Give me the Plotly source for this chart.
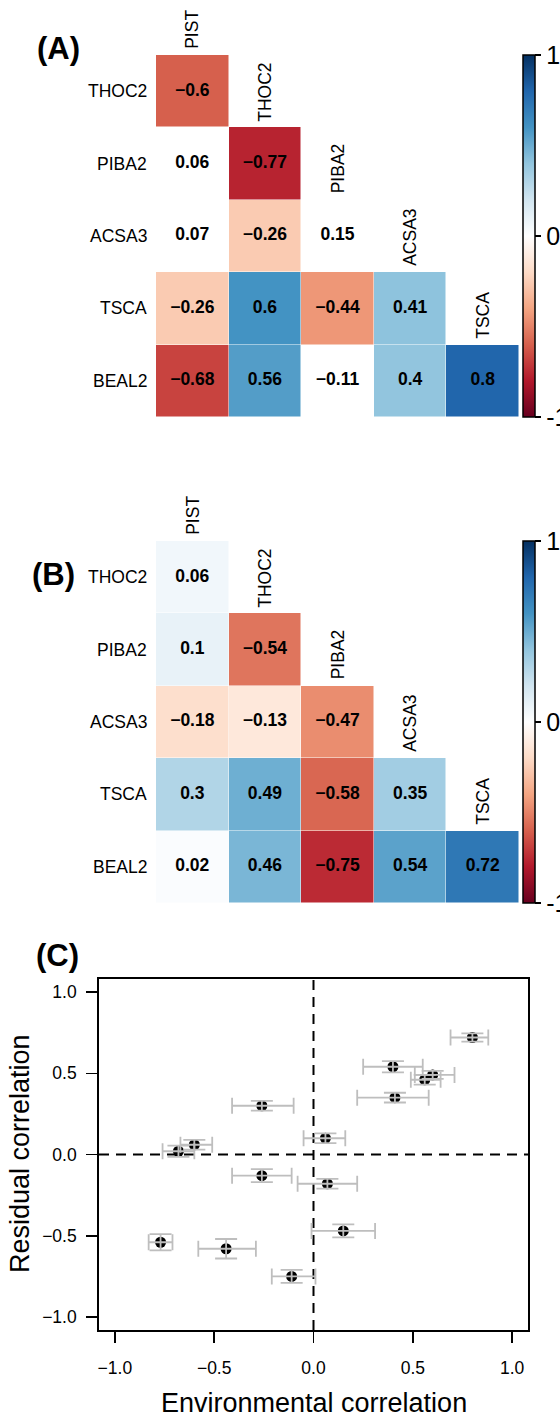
import plotly.graph_objects as go

# ---------------- data ----------------
rows = ["THOC2", "PIBA2", "ACSA3", "TSCA", "BEAL2"]
cols = ["PIST", "THOC2", "PIBA2", "ACSA3", "TSCA"]

# (A) environmental correlations (lower triangle, row by row)
env_corr = [
    [-0.60],
    [0.06, -0.77],
    [0.07, -0.26, 0.15],
    [-0.26, 0.60, -0.44, 0.41],
    [-0.68, 0.56, -0.11, 0.40, 0.80],
]
# cells left blank (non-significant) in (A)
env_blank = [
    [False],
    [True, False],
    [True, False, True],
    [False, False, False, False],
    [False, False, True, False, False],
]
# (B) residual correlations
res_corr = [
    [0.06],
    [0.10, -0.54],
    [-0.18, -0.13, -0.47],
    [0.30, 0.49, -0.58, 0.35],
    [0.02, 0.46, -0.75, 0.54, 0.72],
]

# (C) interval bounds, same pair order as the flattened lower triangle
env_lo = [-0.67, -0.05, -0.83, -0.08, -0.41, -0.01, -0.41, 0.51, -0.58, 0.22, -0.76, 0.49, -0.21, 0.25, 0.69]
env_hi = [-0.51, 0.16, -0.71, 0.22, -0.11, 0.31, -0.10, 0.71, -0.29, 0.58, -0.60, 0.64, 0.01, 0.55, 0.88]
res_lo = [0.03, 0.07, -0.59, -0.21, -0.17, -0.51, 0.27, 0.465, -0.64, 0.32, -0.015, 0.43, -0.79, 0.505, 0.695]
res_hi = [0.09, 0.13, -0.49, -0.15, -0.09, -0.43, 0.33, 0.515, -0.52, 0.38, 0.055, 0.49, -0.71, 0.575, 0.745]

cb_vals = [-1, 0, 1]
cb_text = ["-1", "0", "1"]
sc_ticks = [-1.0, -0.5, 0.0, 0.5, 1.0]

# ---------------- style ----------------
W, H = 560, 1420
FONT = "Liberation Sans, Arial, sans-serif"
RDBU = ["#67001F", "#B2182B", "#D6604D", "#F4A582", "#FDDBC7", "#FFFFFF",
        "#D1E5F0", "#92C5DE", "#4393C3", "#2166AC", "#053061"]
colorscale = [[i / 10, c] for i, c in enumerate(RDBU)]


def fx(p):
    return p / W


def fy(p):
    return 1 - p / H


def fmt(v):
    s = f"{v:g}"
    return s.replace("-", "\u2212")


fig = go.Figure()
annotations = []


def add_heat(mat, blank, xa, ya, top_px, bot_px):
    n = len(rows)
    z = [[None] * n for _ in range(n)]
    tx, ty, tt = [], [], []
    for i, r in enumerate(mat):
        for j, v in enumerate(r):
            if blank is None or not blank[i][j]:
                z[i][j] = v
            tx.append(j)
            ty.append(i)
            tt.append(fmt(v))
    fig.add_trace(go.Heatmap(
        z=z, x=list(range(n)), y=list(range(n)), xaxis=xa, yaxis=ya,
        zmin=-1, zmax=1, colorscale=colorscale, hoverinfo="skip",
        xgap=0.5, ygap=0.5,
        colorbar=dict(
            x=fx(523), xanchor="left", y=fy(top_px), yanchor="top",
            len=bot_px - top_px, lenmode="pixels", thickness=12,
            thicknessmode="pixels", outlinewidth=1.5, outlinecolor="black",
            xpad=0, ypad=0, tickvals=cb_vals, ticktext=cb_text,
            ticks="outside", ticklen=6, tickwidth=1.5, tickcolor="black",
            tickfont=dict(size=25, color="black", family=FONT),
        ),
    ))
    fig.add_trace(go.Scatter(
        x=tx, y=ty, text=tt, mode="text", xaxis=xa, yaxis=ya,
        textfont=dict(size=17.5, color="black", family=FONT, weight="bold"),
        hoverinfo="skip", showlegend=False,
    ))
    for i, name in enumerate(rows):
        annotations.append(dict(
            text=name, xref="paper", x=fx(149), xanchor="right",
            yref=ya, y=i, yanchor="middle", showarrow=False,
            font=dict(size=17.5, color="black", family=FONT)))
    for j, name in enumerate(cols):
        annotations.append(dict(
            text=name, xref=xa, x=j, xanchor="center",
            yref=ya, y=j - 0.5, yanchor="bottom", yshift=4,
            textangle=-90, showarrow=False,
            font=dict(size=17.5, color="black", family=FONT)))


add_heat(env_corr, env_blank, "x", "y", 55, 417)
add_heat(res_corr, None, "x2", "y2", 541, 903)

# ---------------- (C) scatter ----------------
env_flat = [v for r in env_corr for v in r]
res_flat = [v for r in res_corr for v in r]
ex_plus = [h - x for h, x in zip(env_hi, env_flat)]
ex_minus = [x - l for l, x in zip(env_lo, env_flat)]
ey_plus = [h - y for h, y in zip(res_hi, res_flat)]
ey_minus = [y - l for l, y in zip(res_lo, res_flat)]

fig.add_trace(go.Scatter(
    x=env_flat, y=res_flat, mode="markers", xaxis="x3", yaxis="y3",
    marker=dict(color="black", size=11), showlegend=False, hoverinfo="skip"))
fig.add_trace(go.Scatter(
    x=env_flat, y=res_flat, mode="markers", xaxis="x3", yaxis="y3",
    marker=dict(color="black", size=1, opacity=0), showlegend=False,
    hoverinfo="skip",
    error_x=dict(type="data", symmetric=False, array=ex_plus, arrayminus=ex_minus,
                 color="#BEBEBE", thickness=1.8, width=8),
    error_y=dict(type="data", symmetric=False, array=ey_plus, arrayminus=ey_minus,
                 color="#BEBEBE", thickness=1.8, width=11)))

sc_ticktext = [f"{v:.1f}".replace("-", "\u2212") for v in sc_ticks]

hidden = dict(visible=False, showgrid=False, zeroline=False, fixedrange=True)
sc_axis = dict(
    range=[-1.08, 1.08], tickvals=sc_ticks, ticktext=sc_ticktext,
    ticks="outside", ticklen=11, tickwidth=1.5, tickcolor="black",
    showline=True, mirror=True, linecolor="black", linewidth=1.8,
    showgrid=False, zeroline=False,
    tickfont=dict(size=17.5, color="black", family=FONT))

fig.update_layout(
    width=W, height=H, template="none",
    margin=dict(l=0, r=0, t=0, b=0, autoexpand=False),
    paper_bgcolor="white", plot_bgcolor="white", showlegend=False,
    font=dict(family=FONT, color="black"),
    xaxis=dict(domain=[fx(156), fx(519)], range=[-0.5, 4.5], anchor="y", **hidden),
    yaxis=dict(domain=[fy(417), fy(55)], range=[4.5, -0.5], anchor="x", **hidden),
    xaxis2=dict(domain=[fx(156), fx(519)], range=[-0.5, 4.5], anchor="y2", **hidden),
    yaxis2=dict(domain=[fy(903), fy(541)], range=[4.5, -0.5], anchor="x2", **hidden),
    xaxis3=dict(domain=[fx(99), fx(528)], anchor="y3", ticklabelstandoff=10, **sc_axis),
    yaxis3=dict(domain=[fy(1330), fy(979)], anchor="x3", ticklabelstandoff=6, **sc_axis),
)

fig.add_shape(type="line", xref="x3", x0=0, x1=0, yref="y3 domain", y0=0, y1=1,
              line=dict(color="black", width=2, dash="10px,7px"), layer="below")
fig.add_shape(type="line", yref="y3", y0=0, y1=0, xref="x3 domain", x0=0, x1=1,
              line=dict(color="black", width=2, dash="10px,7px"), layer="below")

# panel labels and axis titles
for lab, cx, cy in [("(A)", 58, 49), ("(B)", 53, 574), ("(C)", 57, 955)]:
    annotations.append(dict(
        text=f"<b>{lab}</b>", xref="paper", yref="paper", x=fx(cx), y=fy(cy),
        xanchor="center", yanchor="middle", showarrow=False,
        font=dict(size=31, color="black", family=FONT)))
annotations.append(dict(
    text="Environmental correlation", xref="paper", yref="paper",
    x=fx(313.5), y=fy(1403), xanchor="center", yanchor="middle", showarrow=False,
    font=dict(size=27, color="black", family=FONT)))
annotations.append(dict(
    text="Residual correlation", xref="paper", yref="paper",
    x=fx(20), y=fy(1154), xanchor="center", yanchor="middle", textangle=-90,
    showarrow=False, font=dict(size=27, color="black", family=FONT)))

fig.update_layout(annotations=annotations)
fig.write_html(
    "out.html",
    config={"displayModeBar": False, "staticPlot": True},
    post_script="document.body.style.margin='0px';document.body.style.overflow='hidden';",
)
